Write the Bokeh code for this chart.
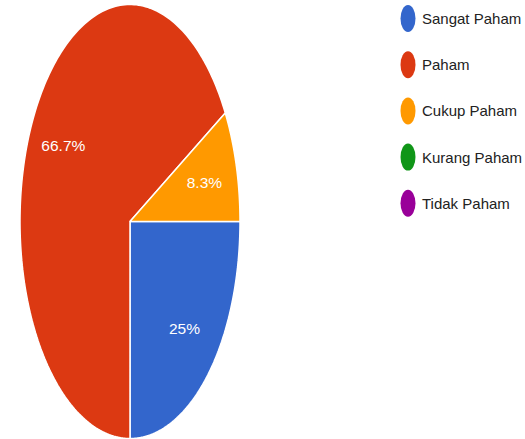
import numpy as np
from bokeh.plotting import figure
from bokeh.models import Range1d
from bokeh.embed import file_html
from bokeh.resources import INLINE
from bokeh.core.properties import value

# ---- data ----
categories = ["Sangat Paham", "Paham", "Cukup Paham", "Kurang Paham", "Tidak Paham"]
counts = [3, 8, 1, 0, 0]
colors = ["#3366CC", "#DC3912", "#FF9900", "#109618", "#990099"]

# ---- layout (page pixels) ----
W, H = 525, 439
cx, cy, rx, ry = 129.5, 221.0, 110.0, 217.0
label_r = 0.7
leg_x, leg_y0, leg_dy = 407.5, 18.0, 46.2

p = figure(width=W, height=H, output_backend="svg", toolbar_location=None,
           x_range=Range1d(0, W), y_range=Range1d(H, 0), min_border=0,
           x_axis_location=None, y_axis_location=None)
p.grid.visible = False
p.outline_line_color = None
p.background_fill_color = "white"
p.border_fill_color = "white"
p.styles = {"position": "absolute", "left": "0px", "top": "0px"}

total = float(sum(counts))
xs, ys, cols, lx, ly, lt = [], [], [], [], [], []
cum = 0.0
for cat, c, col in zip(categories, counts, colors):
    if c <= 0:
        continue
    a0 = -2 * np.pi * cum / total
    a1 = -2 * np.pi * (cum + c) / total
    t = np.linspace(a0, a1, 200)
    xs.append([cx] + list(cx + rx * np.cos(t)) + [cx])
    ys.append([cy] + list(cy - ry * np.sin(t)) + [cy])
    cols.append(col)
    am = (a0 + a1) / 2
    lx.append(cx + label_r * rx * np.cos(am))
    ly.append(cy - label_r * ry * np.sin(am))
    pct = 100.0 * c / total
    lt.append(("%.1f" % pct).rstrip("0").rstrip(".") + "%")
    cum += c

p.patches(xs=xs, ys=ys, fill_color=cols, line_color="white", line_width=1.5)
p.text(x=lx, y=ly, text=lt, text_color="white", text_font=value("Liberation Sans"),
       text_font_size="15.5px", text_align="center", text_baseline="middle")

# legend
ly_leg = [leg_y0 + leg_dy * i for i in range(len(categories))]
p.ellipse(x=[leg_x] * len(categories), y=ly_leg, width=15, height=27,
          fill_color=colors, line_color=None)
p.text(x=[leg_x + 14] * len(categories), y=ly_leg, text=categories,
       text_color="#222222", text_font=value("Liberation Sans"),
       text_font_size="15px", text_align="left", text_baseline="middle")

open("out.html", "w").write(file_html(p, INLINE))
